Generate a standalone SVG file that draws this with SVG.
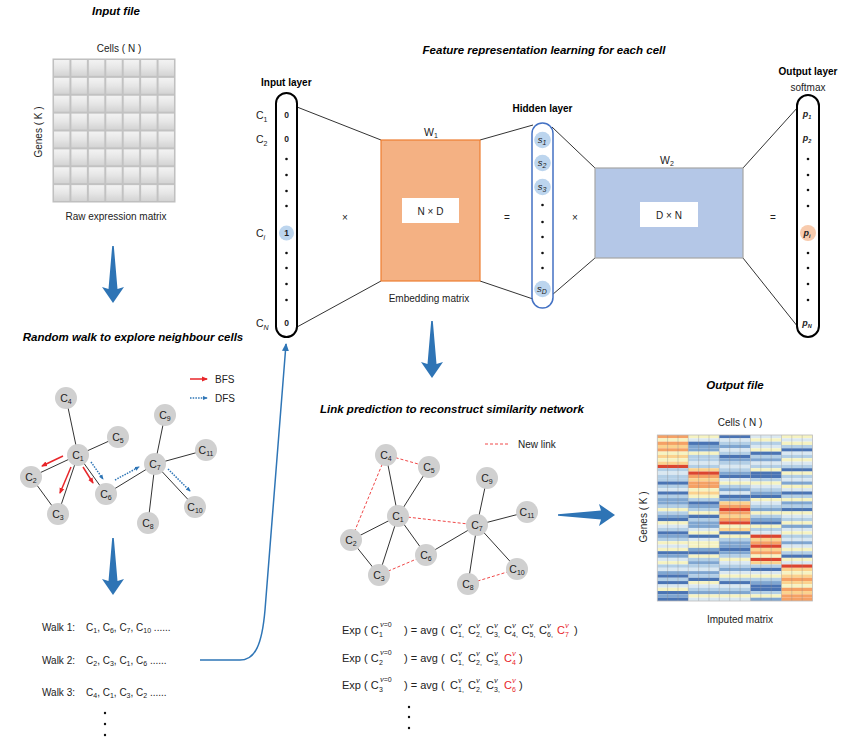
<svg xmlns="http://www.w3.org/2000/svg" width="854" height="747" viewBox="0 0 854 747">
<style>
text{font-family:"Liberation Sans",Arial,sans-serif;fill:#222}
.ttl{font-size:11.5px;font-weight:bold;font-style:italic;fill:#000}
.lb{font-size:10px}
.bl{font-size:10px;font-weight:bold;fill:#000}
.nl{font-size:10.5px;text-anchor:middle}
.sb{font-size:7px}
.f{font-size:11px}
.fs{font-size:7px}
.nu{font-family:"Liberation Serif",serif;font-style:italic;font-size:8.5px}
.red{fill:#e8262a}
.node{fill:#d0d0d0}
.edge{stroke:#333;stroke-width:1;fill:none}
.nl2{stroke:#f04848;stroke-width:1;stroke-dasharray:3 2;fill:none}
.dot{fill:#111}
.d{fill:#4a74b4}.m{fill:#7fa6d1}.l{fill:#b3cfe6}.p{fill:#dae8f1}.y{fill:#f6f3c2}.o{fill:#fbd28e}.r{fill:#f5a165}.x{fill:#dc4530}
</style>
<defs>
<linearGradient id="cellg" x1="0" y1="0" x2="0" y2="1"><stop offset="0" stop-color="#f4f4f4"/><stop offset="0.5" stop-color="#e6e6e6"/><stop offset="1" stop-color="#d2d2d2"/></linearGradient>
<pattern id="cell" patternUnits="userSpaceOnUse" x="53" y="59" width="17.43" height="17.875"><rect x="0.5" y="0.5" width="16.43" height="16.875" fill="url(#cellg)" stroke="#c2c2c2" stroke-width="1"/></pattern>
<path id="bigArrow" d="M0,-0.8 L43,-4.5 L41,-11 L57,0 L41,11 L43,4.5 L0,0.8 Z" fill="#2e74b5"/>
<marker id="ahR" viewBox="0 0 6 6" refX="5" refY="3" markerWidth="6" markerHeight="6" markerUnits="userSpaceOnUse" orient="auto"><path d="M0,0.5 L6,3 L0,5.5Z" fill="#e8262a"/></marker>
<marker id="ahB" viewBox="0 0 6 6" refX="5" refY="3" markerWidth="5" markerHeight="5" markerUnits="userSpaceOnUse" orient="auto"><path d="M0,0.5 L6,3 L0,5.5Z" fill="#2e75b6"/></marker>
<marker id="ahC" viewBox="0 0 8 8" refX="7" refY="4" markerWidth="8" markerHeight="8" markerUnits="userSpaceOnUse" orient="auto"><path d="M0,0.5 L8,4 L0,7.5Z" fill="#2e75b6"/></marker>
</defs>
<rect width="854" height="747" fill="#fff"/>

<!-- connectors -->
<g id="connectors">
<line class="edge" x1="297" y1="107" x2="381" y2="140"/>
<line class="edge" x1="297" y1="327" x2="381" y2="281"/>
<line class="edge" x1="480" y1="140" x2="533" y2="125"/>
<line class="edge" x1="480" y1="281" x2="533" y2="299"/>
<line class="edge" x1="552" y1="127" x2="595" y2="168"/>
<line class="edge" x1="552" y1="295" x2="595" y2="258"/>
<line class="edge" x1="743" y1="168" x2="798" y2="107"/>
<line class="edge" x1="743" y1="258" x2="798" y2="327"/>
<!-- random walk graph edges -->
<g>
<line class="edge" x1="78" y1="455" x2="66" y2="398"/>
<line class="edge" x1="78" y1="455" x2="118" y2="437"/>
<line class="edge" x1="78" y1="455" x2="31" y2="477"/>
<line class="edge" x1="78" y1="455" x2="58" y2="514"/>
<line class="edge" x1="78" y1="455" x2="106" y2="494"/>
<line class="edge" x1="31" y1="477" x2="58" y2="514"/>
<line class="edge" x1="106" y1="494" x2="155" y2="464"/>
<line class="edge" x1="155" y1="464" x2="165" y2="415"/>
<line class="edge" x1="155" y1="464" x2="206" y2="450"/>
<line class="edge" x1="155" y1="464" x2="195" y2="507"/>
<line class="edge" x1="155" y1="464" x2="148" y2="523"/>
</g>
<g stroke="#e8262a" stroke-width="1.5" fill="none" marker-end="url(#ahR)">
<line x1="190" y1="379" x2="207" y2="379"/>
<line x1="63" y1="456" x2="42" y2="466"/>
<line x1="71" y1="467" x2="60" y2="493"/>
<line x1="83" y1="467" x2="93" y2="483"/>
</g>
<g stroke="#2e75b6" stroke-width="1.5" stroke-dasharray="1.5 1.2" fill="none" marker-end="url(#ahB)">
<line x1="190" y1="398" x2="207" y2="398"/>
<line x1="91" y1="462" x2="103" y2="479"/>
<line x1="115" y1="480" x2="139" y2="467"/>
<line x1="168" y1="469" x2="190" y2="491"/>
</g>
<!-- link prediction graph edges -->
<g>
<line class="edge" x1="398" y1="516" x2="386" y2="455"/>
<line class="edge" x1="398" y1="516" x2="429" y2="467"/>
<line class="edge" x1="398" y1="516" x2="351" y2="540"/>
<line class="edge" x1="398" y1="516" x2="379" y2="575"/>
<line class="edge" x1="398" y1="516" x2="426" y2="555"/>
<line class="edge" x1="351" y1="540" x2="379" y2="575"/>
<line class="edge" x1="426" y1="555" x2="477" y2="525"/>
<line class="edge" x1="477" y1="525" x2="487" y2="478"/>
<line class="edge" x1="477" y1="525" x2="527" y2="512"/>
<line class="edge" x1="477" y1="525" x2="517" y2="569"/>
<line class="edge" x1="477" y1="525" x2="468" y2="584"/>
<line class="nl2" x1="386" y1="455" x2="429" y2="467"/>
<line class="nl2" x1="386" y1="455" x2="351" y2="540"/>
<line class="nl2" x1="398" y1="516" x2="477" y2="525"/>
<line class="nl2" x1="379" y1="575" x2="426" y2="555"/>
<line class="nl2" x1="468" y1="584" x2="517" y2="569"/>
<line class="nl2" x1="485" y1="444" x2="509" y2="444"/>
</g>
<path d="M200,660 L240,660 C255,660 262,645 265,610 L286,344" fill="none" stroke="#2e75b6" stroke-width="1.5" marker-end="url(#ahC)"/>
<use href="#bigArrow" transform="translate(113,246) rotate(90)"/>
<use href="#bigArrow" transform="translate(432,321) rotate(90)"/>
<use href="#bigArrow" transform="translate(113,538) rotate(90)"/>
<use href="#bigArrow" transform="translate(558,515)"/>
</g>

<!-- input file -->
<g id="input-file">
<text class="ttl" x="116" y="15" text-anchor="middle">Input file</text>
<text class="lb" x="119" y="51.5" text-anchor="middle">Cells ( N )</text>
<rect x="53" y="59" width="122" height="143" fill="url(#cell)" stroke="#bdbdbd"/>
<text class="lb" transform="translate(41.5,132) rotate(-90)" text-anchor="middle">Genes ( K )</text>
<text class="lb" x="116" y="219.5" text-anchor="middle">Raw expression matrix</text>
</g>

<text class="ttl" x="544" y="54" text-anchor="middle">Feature representation learning for each cell</text>

<!-- input layer -->
<g id="input-layer">
<text class="bl" x="261" y="85.5">Input layer</text>
<rect x="276" y="93" width="21" height="244" rx="10.5" fill="#fff" stroke="#000" stroke-width="2"/>
<text x="256" y="119" font-size="10.5">C<tspan dy="2.5" class="sb">1</tspan></text>
<text x="256" y="143" font-size="10.5">C<tspan dy="2.5" class="sb">2</tspan></text>
<text x="256" y="237" font-size="10.5">C<tspan dy="2.5" class="sb" font-style="italic">i</tspan></text>
<text x="256" y="327" font-size="10.5">C<tspan dy="2.5" class="sb" font-style="italic">N</tspan></text>
<circle cx="286.5" cy="233" r="7.5" fill="#bcd5ee"/>
<g font-size="8.5" font-weight="bold" text-anchor="middle" fill="#000">
<text x="286.5" y="118">0</text>
<text x="286.5" y="142">0</text>
<text x="286.5" y="236">1</text>
<text x="286.5" y="326">0</text>
</g>
<circle class="dot" cx="286.5" cy="159" r="1.3"/><circle class="dot" cx="286.5" cy="175" r="1.3"/><circle class="dot" cx="286.5" cy="191" r="1.3"/><circle class="dot" cx="286.5" cy="206" r="1.3"/>
<circle class="dot" cx="286.5" cy="253" r="1.3"/><circle class="dot" cx="286.5" cy="268" r="1.3"/><circle class="dot" cx="286.5" cy="284" r="1.3"/><circle class="dot" cx="286.5" cy="300" r="1.3"/>
</g>
<text class="lb" x="345" y="221" text-anchor="middle" font-size="11">×</text>

<!-- W1 -->
<g id="w1">
<text x="431" y="135.5" text-anchor="middle" font-size="10.5">W<tspan dy="2.5" class="sb">1</tspan></text>
<rect x="381" y="140" width="99" height="141" fill="#f4b183" stroke="#ed7d31" stroke-width="1.2"/>
<rect x="402" y="198" width="57" height="25" fill="#fff"/>
<text class="lb" x="430.5" y="214.5" text-anchor="middle">N × D</text>
<text class="lb" x="429" y="301.5" text-anchor="middle">Embedding matrix</text>
</g>
<text class="lb" x="507" y="221" text-anchor="middle" font-size="11">=</text>

<!-- hidden layer -->
<g id="hidden-layer">
<text class="bl" x="542.5" y="111.5" text-anchor="middle">Hidden layer</text>
<rect x="532" y="123" width="21" height="185" rx="10.5" fill="#fff" stroke="#4472c4" stroke-width="1.5"/>
<circle cx="542.5" cy="140" r="8.3" fill="#bcd5ee"/>
<circle cx="542.5" cy="163" r="8.3" fill="#bcd5ee"/>
<circle cx="542.5" cy="187" r="8.3" fill="#bcd5ee"/>
<circle cx="542.5" cy="289" r="8.3" fill="#bcd5ee"/>
<g font-size="9.5" font-style="italic" text-anchor="middle">
<text x="542" y="143">s<tspan dy="2" class="sb">1</tspan></text>
<text x="542" y="166">s<tspan dy="2" class="sb">2</tspan></text>
<text x="542" y="190">s<tspan dy="2" class="sb">3</tspan></text>
<text x="542" y="292">s<tspan dy="2" class="sb">D</tspan></text>
</g>
<circle class="dot" cx="542.5" cy="205" r="1.3"/><circle class="dot" cx="542.5" cy="222" r="1.3"/><circle class="dot" cx="542.5" cy="237" r="1.3"/><circle class="dot" cx="542.5" cy="253" r="1.3"/><circle class="dot" cx="542.5" cy="268" r="1.3"/>
</g>
<text class="lb" x="575" y="221" text-anchor="middle" font-size="11">×</text>

<!-- W2 -->
<g id="w2">
<text x="667" y="163.5" text-anchor="middle" font-size="10.5">W<tspan dy="2.5" class="sb">2</tspan></text>
<rect x="595" y="168" width="148" height="90" fill="#b4c7e7" stroke="#a6a6a6" stroke-width="1.2"/>
<rect x="640" y="202" width="58" height="25" fill="#fff"/>
<text class="lb" x="669" y="218.5" text-anchor="middle">D × N</text>
</g>
<text class="lb" x="773" y="221" text-anchor="middle" font-size="11">=</text>

<!-- output layer -->
<g id="output-layer">
<text class="bl" x="808" y="74.5" text-anchor="middle">Output layer</text>
<text class="lb" x="808" y="90.5" text-anchor="middle" font-size="9.5">softmax</text>
<rect x="797" y="95" width="22" height="242" rx="11" fill="#fff" stroke="#000" stroke-width="2"/>
<circle cx="808" cy="233" r="8" fill="#f8cbad"/>
<g font-size="9" font-weight="bold" font-style="italic" text-anchor="middle" fill="#000">
<text x="807" y="117">p<tspan dy="1.5" font-size="5.5">1</tspan></text>
<text x="807" y="141">p<tspan dy="1.5" font-size="5.5">2</tspan></text>
<text x="807" y="236">p<tspan dy="1.5" font-size="5.5">i</tspan></text>
<text x="807" y="326">p<tspan dy="1.5" font-size="5.5">N</tspan></text>
</g>
<circle class="dot" cx="808" cy="159" r="1.3"/><circle class="dot" cx="808" cy="175" r="1.3"/><circle class="dot" cx="808" cy="190" r="1.3"/><circle class="dot" cx="808" cy="206" r="1.3"/>
<circle class="dot" cx="808" cy="253" r="1.3"/><circle class="dot" cx="808" cy="268" r="1.3"/><circle class="dot" cx="808" cy="284" r="1.3"/><circle class="dot" cx="808" cy="300" r="1.3"/>
</g>

<!-- random walk section -->
<text class="ttl" x="133" y="341" text-anchor="middle">Random walk to explore neighbour cells</text>
<g id="rw-legend">
<text class="lb" x="215" y="382.5" font-size="9.5">BFS</text>
<text class="lb" x="215" y="401.5" font-size="9.5">DFS</text>
</g>
<g id="rw-C4"><circle class="node" cx="66" cy="398" r="11"/><text class="nl" x="66" y="401.5">C<tspan dy="2.5" class="sb">4</tspan></text></g>
<g id="rw-C5"><circle class="node" cx="118" cy="437" r="11"/><text class="nl" x="118" y="440.5">C<tspan dy="2.5" class="sb">5</tspan></text></g>
<g id="rw-C1"><circle class="node" cx="78" cy="455" r="11"/><text class="nl" x="78" y="458.5">C<tspan dy="2.5" class="sb">1</tspan></text></g>
<g id="rw-C2"><circle class="node" cx="31" cy="477" r="11"/><text class="nl" x="31" y="480.5">C<tspan dy="2.5" class="sb">2</tspan></text></g>
<g id="rw-C3"><circle class="node" cx="58" cy="514" r="11"/><text class="nl" x="58" y="517.5">C<tspan dy="2.5" class="sb">3</tspan></text></g>
<g id="rw-C6"><circle class="node" cx="106" cy="494" r="11"/><text class="nl" x="106" y="497.5">C<tspan dy="2.5" class="sb">6</tspan></text></g>
<g id="rw-C7"><circle class="node" cx="155" cy="464" r="11"/><text class="nl" x="155" y="467.5">C<tspan dy="2.5" class="sb">7</tspan></text></g>
<g id="rw-C9"><circle class="node" cx="165" cy="415" r="11"/><text class="nl" x="165" y="418.5">C<tspan dy="2.5" class="sb">9</tspan></text></g>
<g id="rw-C11"><circle class="node" cx="206" cy="450" r="11"/><text class="nl" x="206" y="453.5">C<tspan dy="2.5" class="sb">11</tspan></text></g>
<g id="rw-C10"><circle class="node" cx="195" cy="507" r="11"/><text class="nl" x="195" y="510.5">C<tspan dy="2.5" class="sb">10</tspan></text></g>
<g id="rw-C8"><circle class="node" cx="148" cy="523" r="11"/><text class="nl" x="148" y="526.5">C<tspan dy="2.5" class="sb">8</tspan></text></g>

<!-- walks -->
<g id="walks" font-size="10">
<text x="42" y="630.5">Walk 1:</text>
<text x="86" y="630.5">C<tspan dy="2.5" class="sb">1</tspan><tspan dy="-2.5">, C</tspan><tspan dy="2.5" class="sb">6</tspan><tspan dy="-2.5">, C</tspan><tspan dy="2.5" class="sb">7</tspan><tspan dy="-2.5">, C</tspan><tspan dy="2.5" class="sb">10</tspan><tspan dy="-2.5"> ......</tspan></text>
<text x="42" y="663.5">Walk 2:</text>
<text x="86" y="663.5">C<tspan dy="2.5" class="sb">2</tspan><tspan dy="-2.5">, C</tspan><tspan dy="2.5" class="sb">3</tspan><tspan dy="-2.5">, C</tspan><tspan dy="2.5" class="sb">1</tspan><tspan dy="-2.5">, C</tspan><tspan dy="2.5" class="sb">6</tspan><tspan dy="-2.5"> ......</tspan></text>
<text x="42" y="695.5">Walk 3:</text>
<text x="86" y="695.5">C<tspan dy="2.5" class="sb">4</tspan><tspan dy="-2.5">, C</tspan><tspan dy="2.5" class="sb">1</tspan><tspan dy="-2.5">, C</tspan><tspan dy="2.5" class="sb">3</tspan><tspan dy="-2.5">, C</tspan><tspan dy="2.5" class="sb">2</tspan><tspan dy="-2.5"> ......</tspan></text>
<circle class="dot" cx="105" cy="713" r="1.2"/><circle class="dot" cx="105" cy="724" r="1.2"/><circle class="dot" cx="105" cy="735" r="1.2"/>
</g>

<!-- link prediction -->
<text class="ttl" x="452" y="413" text-anchor="middle">Link prediction to reconstruct similarity network</text>
<text class="lb" x="518" y="447.5" font-size="10.5">New link</text>
<g id="lp-C4"><circle class="node" cx="386" cy="455" r="11"/><text class="nl" x="386" y="458.5">C<tspan dy="2.5" class="sb">4</tspan></text></g>
<g id="lp-C5"><circle class="node" cx="429" cy="467" r="11"/><text class="nl" x="429" y="470.5">C<tspan dy="2.5" class="sb">5</tspan></text></g>
<g id="lp-C9"><circle class="node" cx="487" cy="478" r="11"/><text class="nl" x="487" y="481.5">C<tspan dy="2.5" class="sb">9</tspan></text></g>
<g id="lp-C1"><circle class="node" cx="398" cy="516" r="11"/><text class="nl" x="398" y="519.5">C<tspan dy="2.5" class="sb">1</tspan></text></g>
<g id="lp-C11"><circle class="node" cx="527" cy="512" r="11"/><text class="nl" x="527" y="515.5">C<tspan dy="2.5" class="sb">11</tspan></text></g>
<g id="lp-C7"><circle class="node" cx="477" cy="525" r="11"/><text class="nl" x="477" y="528.5">C<tspan dy="2.5" class="sb">7</tspan></text></g>
<g id="lp-C2"><circle class="node" cx="351" cy="540" r="11"/><text class="nl" x="351" y="543.5">C<tspan dy="2.5" class="sb">2</tspan></text></g>
<g id="lp-C6"><circle class="node" cx="426" cy="555" r="11"/><text class="nl" x="426" y="558.5">C<tspan dy="2.5" class="sb">6</tspan></text></g>
<g id="lp-C3"><circle class="node" cx="379" cy="575" r="11"/><text class="nl" x="379" y="578.5">C<tspan dy="2.5" class="sb">3</tspan></text></g>
<g id="lp-C10"><circle class="node" cx="517" cy="569" r="11"/><text class="nl" x="517" y="572.5">C<tspan dy="2.5" class="sb">10</tspan></text></g>
<g id="lp-C8"><circle class="node" cx="468" cy="584" r="11"/><text class="nl" x="468" y="587.5">C<tspan dy="2.5" class="sb">8</tspan></text></g>

<!-- formulas -->
<g id="formulas">
<text class="f" x="342" y="634">Exp ( C</text><text class="fs" x="379" y="637">1</text><text class="fs" x="380" y="627"><tspan class="nu">ν</tspan>=0</text>
<text class="f" x="404" y="634">) = avg (</text>
<text class="f" x="450" y="634">C</text><text class="fs" x="458" y="637">1,</text><text class="nu" x="458" y="628">ν</text>
<text class="f" x="468" y="634">C</text><text class="fs" x="476" y="637">2,</text><text class="nu" x="476" y="628">ν</text>
<text class="f" x="486" y="634">C</text><text class="fs" x="494" y="637">3,</text><text class="nu" x="494" y="628">ν</text>
<text class="f" x="504" y="634">C</text><text class="fs" x="512" y="637">4,</text><text class="nu" x="512" y="628">ν</text>
<text class="f" x="521.5" y="634">C</text><text class="fs" x="529.5" y="637">5,</text><text class="nu" x="529.5" y="628">ν</text>
<text class="f" x="539" y="634">C</text><text class="fs" x="547" y="637">6,</text><text class="nu" x="547" y="628">ν</text>
<text class="f red" x="557" y="634">C</text><text class="fs red" x="565" y="637">7</text><text class="nu red" x="565" y="628">ν</text>
<text class="f" x="574" y="634">)</text>

<text class="f" x="342" y="661.5">Exp ( C</text><text class="fs" x="379" y="664.5">2</text><text class="fs" x="380" y="654.5"><tspan class="nu">ν</tspan>=0</text>
<text class="f" x="404" y="661.5">) = avg (</text>
<text class="f" x="450" y="661.5">C</text><text class="fs" x="458" y="664.5">1,</text><text class="nu" x="458" y="655.5">ν</text>
<text class="f" x="468" y="661.5">C</text><text class="fs" x="476" y="664.5">2,</text><text class="nu" x="476" y="655.5">ν</text>
<text class="f" x="486" y="661.5">C</text><text class="fs" x="494" y="664.5">3,</text><text class="nu" x="494" y="655.5">ν</text>
<text class="f red" x="504" y="661.5">C</text><text class="fs red" x="512" y="664.5">4</text><text class="nu red" x="512" y="655.5">ν</text>
<text class="f" x="519" y="661.5">)</text>

<text class="f" x="342" y="689">Exp ( C</text><text class="fs" x="379" y="692">3</text><text class="fs" x="380" y="682"><tspan class="nu">ν</tspan>=0</text>
<text class="f" x="404" y="689">) = avg (</text>
<text class="f" x="450" y="689">C</text><text class="fs" x="458" y="692">1,</text><text class="nu" x="458" y="683">ν</text>
<text class="f" x="468" y="689">C</text><text class="fs" x="476" y="692">2,</text><text class="nu" x="476" y="683">ν</text>
<text class="f" x="486" y="689">C</text><text class="fs" x="494" y="692">3,</text><text class="nu" x="494" y="683">ν</text>
<text class="f red" x="504" y="689">C</text><text class="fs red" x="512" y="692">6</text><text class="nu red" x="512" y="683">ν</text>
<text class="f" x="519" y="689">)</text>
<circle class="dot" cx="409" cy="707" r="1.2"/><circle class="dot" cx="409" cy="717" r="1.2"/><circle class="dot" cx="409" cy="728" r="1.2"/>
</g>

<!-- output file -->
<g id="output-file">
<text class="ttl" x="735" y="389" text-anchor="middle">Output file</text>
<text class="lb" x="740" y="425.5" text-anchor="middle">Cells ( N )</text>
<text class="lb" transform="translate(646.5,517) rotate(-90)" text-anchor="middle">Genes ( K )</text>
<text class="lb" x="740" y="622.5" text-anchor="middle" font-size="10.5">Imputed matrix</text>
<g transform="translate(657.3,435) scale(31,3.32)">
<rect class="r" y="0" width="1" height="1"/><rect class="y" y="1" width="1" height="1"/><rect class="r" y="2" width="1" height="1"/><rect class="o" y="3" width="1" height="1"/><rect class="r" y="4" width="1" height="1"/><rect class="y" y="5" width="1" height="1"/><rect class="o" y="6" width="1" height="1"/><rect class="y" y="7" width="1" height="1"/><rect class="o" y="8" width="1" height="1"/><rect class="x" y="9" width="1" height="1"/>
<rect class="l" y="10" width="1" height="1"/><rect class="p" y="11" width="1" height="1"/><rect class="l" y="12" width="1" height="1"/><rect class="l" y="13" width="1" height="1"/><rect class="d" y="14" width="1" height="1"/><rect class="l" y="15" width="1" height="1"/><rect class="p" y="16" width="1" height="1"/><rect class="d" y="17" width="1" height="1"/><rect class="l" y="18" width="1" height="1"/><rect class="m" y="19" width="1" height="1"/>
<rect class="m" y="20" width="1" height="1"/><rect class="l" y="21" width="1" height="1"/><rect class="y" y="22" width="1" height="1"/><rect class="l" y="23" width="1" height="1"/><rect class="m" y="24" width="1" height="1"/><rect class="d" y="25" width="1" height="1"/><rect class="y" y="26" width="1" height="1"/><rect class="p" y="27" width="1" height="1"/><rect class="l" y="28" width="1" height="1"/><rect class="d" y="29" width="1" height="1"/>
<rect class="m" y="30" width="1" height="1"/><rect class="l" y="31" width="1" height="1"/><rect class="y" y="32" width="1" height="1"/><rect class="p" y="33" width="1" height="1"/><rect class="y" y="34" width="1" height="1"/><rect class="d" y="35" width="1" height="1"/><rect class="m" y="36" width="1" height="1"/><rect class="p" y="37" width="1" height="1"/><rect class="y" y="38" width="1" height="1"/><rect class="l" y="39" width="1" height="1"/>
<rect class="p" y="40" width="1" height="1"/><rect class="m" y="41" width="1" height="1"/><rect class="d" y="42" width="1" height="1"/><rect class="l" y="43" width="1" height="1"/><rect class="d" y="44" width="1" height="1"/><rect class="p" y="45" width="1" height="1"/><rect class="y" y="46" width="1" height="1"/><rect class="d" y="47" width="1" height="1"/><rect class="m" y="48" width="1" height="1"/><rect class="d" y="49" width="1" height="1"/>
</g>
<g transform="translate(688.3,435) scale(31,3.32)">
<rect class="y" y="0" width="1" height="1"/><rect class="p" y="1" width="1" height="1"/><rect class="d" y="2" width="1" height="1"/><rect class="m" y="3" width="1" height="1"/><rect class="m" y="4" width="1" height="1"/><rect class="y" y="5" width="1" height="1"/><rect class="l" y="6" width="1" height="1"/><rect class="l" y="7" width="1" height="1"/><rect class="p" y="8" width="1" height="1"/><rect class="l" y="9" width="1" height="1"/>
<rect class="o" y="10" width="1" height="1"/><rect class="x" y="11" width="1" height="1"/><rect class="r" y="12" width="1" height="1"/><rect class="o" y="13" width="1" height="1"/><rect class="r" y="14" width="1" height="1"/><rect class="r" y="15" width="1" height="1"/><rect class="y" y="16" width="1" height="1"/><rect class="o" y="17" width="1" height="1"/><rect class="y" y="18" width="1" height="1"/><rect class="l" y="19" width="1" height="1"/>
<rect class="d" y="20" width="1" height="1"/><rect class="m" y="21" width="1" height="1"/><rect class="l" y="22" width="1" height="1"/><rect class="y" y="23" width="1" height="1"/><rect class="d" y="24" width="1" height="1"/><rect class="l" y="25" width="1" height="1"/><rect class="m" y="26" width="1" height="1"/><rect class="m" y="27" width="1" height="1"/><rect class="p" y="28" width="1" height="1"/><rect class="y" y="29" width="1" height="1"/>
<rect class="d" y="30" width="1" height="1"/><rect class="p" y="31" width="1" height="1"/><rect class="y" y="32" width="1" height="1"/><rect class="y" y="33" width="1" height="1"/><rect class="m" y="34" width="1" height="1"/><rect class="d" y="35" width="1" height="1"/><rect class="y" y="36" width="1" height="1"/><rect class="l" y="37" width="1" height="1"/><rect class="m" y="38" width="1" height="1"/><rect class="l" y="39" width="1" height="1"/>
<rect class="p" y="40" width="1" height="1"/><rect class="m" y="41" width="1" height="1"/><rect class="l" y="42" width="1" height="1"/><rect class="d" y="43" width="1" height="1"/><rect class="y" y="44" width="1" height="1"/><rect class="p" y="45" width="1" height="1"/><rect class="l" y="46" width="1" height="1"/><rect class="m" y="47" width="1" height="1"/><rect class="y" y="48" width="1" height="1"/><rect class="p" y="49" width="1" height="1"/>
</g>
<g transform="translate(719.3,435) scale(31,3.32)">
<rect class="d" y="0" width="1" height="1"/><rect class="p" y="1" width="1" height="1"/><rect class="l" y="2" width="1" height="1"/><rect class="m" y="3" width="1" height="1"/><rect class="p" y="4" width="1" height="1"/><rect class="l" y="5" width="1" height="1"/><rect class="d" y="6" width="1" height="1"/><rect class="m" y="7" width="1" height="1"/><rect class="l" y="8" width="1" height="1"/><rect class="p" y="9" width="1" height="1"/>
<rect class="l" y="10" width="1" height="1"/><rect class="m" y="11" width="1" height="1"/><rect class="d" y="12" width="1" height="1"/><rect class="p" y="13" width="1" height="1"/><rect class="y" y="14" width="1" height="1"/><rect class="l" y="15" width="1" height="1"/><rect class="m" y="16" width="1" height="1"/><rect class="p" y="17" width="1" height="1"/><rect class="d" y="18" width="1" height="1"/><rect class="m" y="19" width="1" height="1"/>
<rect class="o" y="20" width="1" height="1"/><rect class="r" y="21" width="1" height="1"/><rect class="x" y="22" width="1" height="1"/><rect class="r" y="23" width="1" height="1"/><rect class="o" y="24" width="1" height="1"/><rect class="r" y="25" width="1" height="1"/><rect class="x" y="26" width="1" height="1"/><rect class="y" y="27" width="1" height="1"/><rect class="o" y="28" width="1" height="1"/><rect class="d" y="29" width="1" height="1"/>
<rect class="y" y="30" width="1" height="1"/><rect class="l" y="31" width="1" height="1"/><rect class="m" y="32" width="1" height="1"/><rect class="m" y="33" width="1" height="1"/><rect class="d" y="34" width="1" height="1"/><rect class="m" y="35" width="1" height="1"/><rect class="l" y="36" width="1" height="1"/><rect class="y" y="37" width="1" height="1"/><rect class="p" y="38" width="1" height="1"/><rect class="l" y="39" width="1" height="1"/>
<rect class="m" y="40" width="1" height="1"/><rect class="p" y="41" width="1" height="1"/><rect class="y" y="42" width="1" height="1"/><rect class="l" y="43" width="1" height="1"/><rect class="d" y="44" width="1" height="1"/><rect class="p" y="45" width="1" height="1"/><rect class="l" y="46" width="1" height="1"/><rect class="m" y="47" width="1" height="1"/><rect class="y" y="48" width="1" height="1"/><rect class="p" y="49" width="1" height="1"/>
</g>
<g transform="translate(750.5,435) scale(31,3.32)">
<rect class="p" y="0" width="1" height="1"/><rect class="y" y="1" width="1" height="1"/><rect class="l" y="2" width="1" height="1"/><rect class="p" y="3" width="1" height="1"/><rect class="y" y="4" width="1" height="1"/><rect class="d" y="5" width="1" height="1"/><rect class="l" y="6" width="1" height="1"/><rect class="m" y="7" width="1" height="1"/><rect class="p" y="8" width="1" height="1"/><rect class="l" y="9" width="1" height="1"/>
<rect class="y" y="10" width="1" height="1"/><rect class="d" y="11" width="1" height="1"/><rect class="d" y="12" width="1" height="1"/><rect class="l" y="13" width="1" height="1"/><rect class="y" y="14" width="1" height="1"/><rect class="p" y="15" width="1" height="1"/><rect class="l" y="16" width="1" height="1"/><rect class="m" y="17" width="1" height="1"/><rect class="d" y="18" width="1" height="1"/><rect class="y" y="19" width="1" height="1"/>
<rect class="p" y="20" width="1" height="1"/><rect class="l" y="21" width="1" height="1"/><rect class="m" y="22" width="1" height="1"/><rect class="y" y="23" width="1" height="1"/><rect class="l" y="24" width="1" height="1"/><rect class="m" y="25" width="1" height="1"/><rect class="d" y="26" width="1" height="1"/><rect class="y" y="27" width="1" height="1"/><rect class="l" y="28" width="1" height="1"/><rect class="p" y="29" width="1" height="1"/>
<rect class="x" y="30" width="1" height="1"/><rect class="o" y="31" width="1" height="1"/><rect class="r" y="32" width="1" height="1"/><rect class="x" y="33" width="1" height="1"/><rect class="o" y="34" width="1" height="1"/><rect class="r" y="35" width="1" height="1"/><rect class="y" y="36" width="1" height="1"/><rect class="x" y="37" width="1" height="1"/><rect class="o" y="38" width="1" height="1"/><rect class="l" y="39" width="1" height="1"/>
<rect class="d" y="40" width="1" height="1"/><rect class="p" y="41" width="1" height="1"/><rect class="y" y="42" width="1" height="1"/><rect class="l" y="43" width="1" height="1"/><rect class="m" y="44" width="1" height="1"/><rect class="d" y="45" width="1" height="1"/><rect class="d" y="46" width="1" height="1"/><rect class="l" y="47" width="1" height="1"/><rect class="y" y="48" width="1" height="1"/><rect class="m" y="49" width="1" height="1"/>
</g>
<g transform="translate(781.5,435) scale(31,3.32)">
<rect class="y" y="0" width="1" height="1"/><rect class="p" y="1" width="1" height="1"/><rect class="y" y="2" width="1" height="1"/><rect class="l" y="3" width="1" height="1"/><rect class="d" y="4" width="1" height="1"/><rect class="p" y="5" width="1" height="1"/><rect class="l" y="6" width="1" height="1"/><rect class="y" y="7" width="1" height="1"/><rect class="p" y="8" width="1" height="1"/><rect class="l" y="9" width="1" height="1"/>
<rect class="d" y="10" width="1" height="1"/><rect class="y" y="11" width="1" height="1"/><rect class="l" y="12" width="1" height="1"/><rect class="p" y="13" width="1" height="1"/><rect class="m" y="14" width="1" height="1"/><rect class="y" y="15" width="1" height="1"/><rect class="p" y="16" width="1" height="1"/><rect class="d" y="17" width="1" height="1"/><rect class="l" y="18" width="1" height="1"/><rect class="y" y="19" width="1" height="1"/>
<rect class="m" y="20" width="1" height="1"/><rect class="l" y="21" width="1" height="1"/><rect class="d" y="22" width="1" height="1"/><rect class="y" y="23" width="1" height="1"/><rect class="p" y="24" width="1" height="1"/><rect class="l" y="25" width="1" height="1"/><rect class="y" y="26" width="1" height="1"/><rect class="m" y="27" width="1" height="1"/><rect class="p" y="28" width="1" height="1"/><rect class="y" y="29" width="1" height="1"/>
<rect class="l" y="30" width="1" height="1"/><rect class="p" y="31" width="1" height="1"/><rect class="m" y="32" width="1" height="1"/><rect class="p" y="33" width="1" height="1"/><rect class="y" y="34" width="1" height="1"/><rect class="l" y="35" width="1" height="1"/><rect class="d" y="36" width="1" height="1"/><rect class="y" y="37" width="1" height="1"/><rect class="p" y="38" width="1" height="1"/><rect class="x" y="39" width="1" height="1"/>
<rect class="o" y="40" width="1" height="1"/><rect class="y" y="41" width="1" height="1"/><rect class="o" y="42" width="1" height="1"/><rect class="r" y="43" width="1" height="1"/><rect class="o" y="44" width="1" height="1"/><rect class="y" y="45" width="1" height="1"/><rect class="r" y="46" width="1" height="1"/><rect class="o" y="47" width="1" height="1"/><rect class="r" y="48" width="1" height="1"/><rect class="r" y="49" width="1" height="1"/>
</g>
<g stroke="#8c8c8c" stroke-opacity="0.45" stroke-width="0.8">
<line x1="667.6" y1="435" x2="667.6" y2="601"/><line x1="678" y1="435" x2="678" y2="601"/><line x1="688.3" y1="435" x2="688.3" y2="601"/>
<line x1="698.6" y1="435" x2="698.6" y2="601"/><line x1="709" y1="435" x2="709" y2="601"/><line x1="719.3" y1="435" x2="719.3" y2="601"/>
<line x1="729.7" y1="435" x2="729.7" y2="601"/><line x1="740.1" y1="435" x2="740.1" y2="601"/><line x1="750.5" y1="435" x2="750.5" y2="601"/>
<line x1="760.8" y1="435" x2="760.8" y2="601"/><line x1="771.2" y1="435" x2="771.2" y2="601"/><line x1="781.5" y1="435" x2="781.5" y2="601"/>
<line x1="791.8" y1="435" x2="791.8" y2="601"/><line x1="802.2" y1="435" x2="802.2" y2="601"/>
</g>
<rect x="657.3" y="435" width="155.2" height="166" fill="none" stroke="#bbb" stroke-width="0.8"/>
</g>
</svg>
